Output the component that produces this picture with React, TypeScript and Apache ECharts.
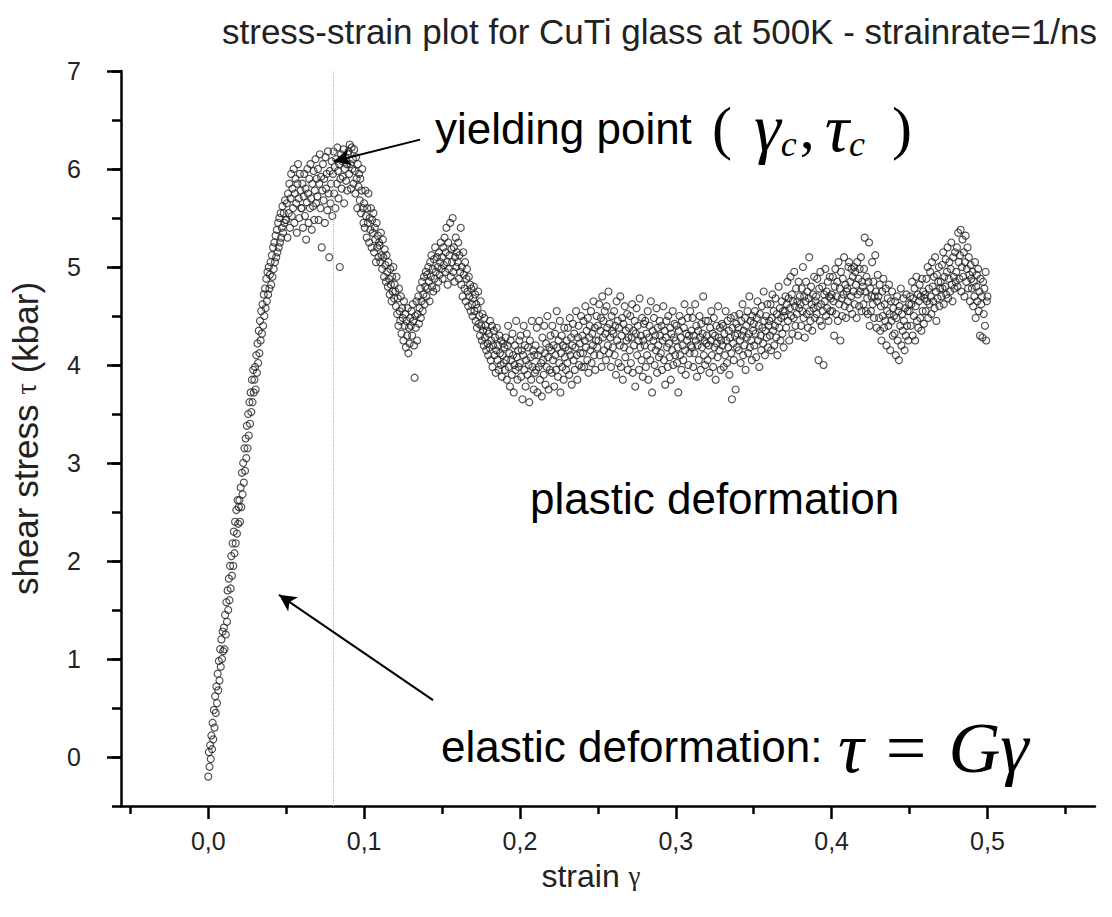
import React, { useEffect, useRef } from "react";
import * as echarts from "echarts";

// Output grid of the simulation: one sample every STRAIN_STEP of shear strain
const STRAIN_STEP = 0.0004;
// Shear stress samples, in hundredths of a kbar
// strain 0.0000 - 0.0496
const stressElastic = [
  -20, 5, -10, 12, -2, 22, 8, 35, 18, 48, 30, 62, 45, 72, 55, 85, 68, 98, 78, 110, 92, 120, 100, 128, 108,
  132, 110, 145, 125, 158, 138, 170, 150, 182, 160, 195, 172, 205, 185, 218, 195, 230, 208, 240, 218, 252, 228, 262, 238, 255,
  262, 240, 275, 255, 290, 268, 300, 280, 315, 292, 325, 305, 338, 315, 350, 328, 362, 340, 372, 352, 385, 362, 395, 372, 385,
  398, 375, 410, 392, 422, 402, 435, 412, 445, 425, 455, 432, 462, 440, 472, 450, 478, 458, 488, 465, 495, 472, 500, 478, 492,
  505, 482, 512, 490, 520, 498, 525, 505, 532, 510, 538, 515, 545, 520, 550, 525, 555, 530, 540, 562, 535, 555, 545, 568, 548,
];
// strain 0.0500 - 0.0996
const stressYield = [
  548, 565, 530, 575, 555, 585, 540, 570, 595, 552, 580, 560, 600, 545, 575, 590, 565, 535, 585, 605, 570, 550, 595, 578, 560,
  560, 585, 540, 572, 595, 552, 580, 528, 566, 600, 575, 545, 590, 560, 605, 570, 538, 585, 562, 598, 548, 578, 610, 565, 590,
  572, 600, 548, 585, 615, 560, 592, 520, 578, 605, 568, 590, 545, 612, 580, 595, 558, 618, 575, 510, 598, 565, 585, 608, 552,
  595, 618, 575, 602, 560, 610, 585, 622, 598, 570, 605, 500, 590, 615, 580, 608, 592, 620, 565, 600, 612, 588, 605, 578, 615,
  618, 595, 625, 605, 580, 622, 600, 610, 585, 620, 598, 575, 612, 590, 560, 605, 582, 595, 568, 590, 555, 578, 600, 560, 545,
];
// strain 0.1000 - 0.1496
const stressSoftening = [
  565, 540, 578, 552, 530, 560, 545, 575, 525, 550, 538, 560, 520, 548, 535, 555, 515, 540, 528, 505, 545, 520, 532, 510, 525,
  522, 505, 535, 512, 498, 528, 510, 490, 518, 502, 485, 512, 495, 480, 505, 488, 472, 498, 482, 465, 490, 475, 500, 468, 482,
  475, 460, 490, 452, 468, 440, 478, 455, 445, 470, 432, 458, 448, 425, 465, 440, 452, 418, 445, 430, 458, 412, 438, 422, 448,
  440, 455, 430, 462, 445, 420, 387, 450, 438, 465, 425, 452, 470, 442, 458, 478, 448, 465, 485, 455, 472, 490, 462, 480, 495,
  470, 492, 478, 500, 485, 465, 505, 490, 512, 480, 498, 475, 508, 488, 520, 495, 478, 510, 500, 485, 515, 492, 505, 525, 498,
];
// strain 0.1500 - 0.1996
const stressHump = [
  510, 488, 520, 502, 530, 495, 515, 540, 505, 482, 525, 498, 512, 545, 490, 518, 505, 550, 495, 520, 485, 510, 530, 500, 515,
  505, 525, 488, 512, 495, 540, 482, 500, 470, 515, 492, 478, 505, 465, 488, 498, 475, 460, 490, 470, 482, 455, 478, 462, 450,
  468, 480, 455, 472, 445, 462, 438, 458, 475, 442, 450, 430, 465, 440, 425, 452, 435, 420, 448, 428, 440, 415, 435, 422, 410,
  432, 418, 445, 405, 425, 440, 398, 420, 435, 410, 428, 392, 415, 438, 405, 420, 395, 430, 412, 400, 425, 388, 410, 422, 402,
  418, 395, 428, 405, 385, 420, 440, 398, 412, 378, 425, 405, 390, 432, 410, 372, 400, 420, 395, 445, 408, 385, 415, 398, 425,
];
// strain 0.2000 - 0.2496
const stressFlowA = [
  402, 430, 388, 415, 365, 410, 440, 395, 420, 378, 405, 432, 390, 418, 400, 362, 425, 408, 385, 445, 398, 415, 375, 410, 392,
  420, 395, 438, 372, 410, 398, 445, 385, 415, 402, 368, 428, 405, 390, 440, 412, 380, 422, 398, 450, 408, 375, 418, 395, 430,
  415, 392, 440, 405, 420, 378, 432, 410, 395, 455, 418, 388, 425, 402, 445, 372, 412, 430, 398, 420, 385, 438, 408, 418, 395,
  425, 402, 438, 415, 390, 448, 410, 428, 380, 420, 442, 405, 432, 395, 418, 455, 410, 385, 428, 440, 400, 422, 412, 450, 398,
  430, 412, 445, 398, 425, 460, 418, 435, 405, 448, 392, 428, 440, 415, 455, 402, 432, 420, 465, 410, 438, 395, 425, 450, 418,
];
// strain 0.2500 - 0.2996
const stressFlowB = [
  440, 425, 462, 410, 435, 448, 398, 470, 428, 445, 415, 455, 432, 405, 460, 438, 420, 475, 412, 442, 428, 398, 450, 435, 418,
  432, 455, 410, 440, 390, 465, 425, 445, 402, 438, 420, 470, 398, 430, 448, 385, 442, 418, 460, 408, 435, 425, 452, 395, 428,
  438, 415, 450, 402, 428, 462, 392, 435, 420, 445, 378, 432, 458, 410, 440, 425, 395, 468, 418, 430, 405, 448, 388, 425, 442,
  420, 445, 398, 432, 410, 455, 385, 428, 440, 405, 465, 418, 372, 435, 425, 448, 400, 430, 415, 458, 392, 438, 420, 408, 445,
  430, 412, 440, 395, 425, 460, 405, 435, 380, 428, 445, 418, 398, 450, 422, 408, 438, 385, 432, 415, 455, 400, 428, 442, 410,
];
// strain 0.3000 - 0.3496
const stressFlowC = [
  425, 440, 402, 418, 372, 435, 450, 410, 428, 395, 445, 420, 405, 438, 462, 415, 390, 432, 425, 448, 400, 430, 412, 455, 420,
  435, 418, 448, 398, 430, 412, 462, 425, 440, 388, 420, 435, 405, 450, 428, 395, 442, 418, 432, 470, 410, 425, 400, 445, 422,
  430, 405, 445, 420, 392, 438, 425, 455, 410, 432, 398, 448, 418, 430, 385, 440, 422, 408, 460, 428, 415, 438, 395, 425, 442,
  420, 440, 398, 432, 410, 455, 425, 402, 445, 418, 435, 390, 428, 448, 412, 365, 438, 422, 405, 450, 430, 375, 442, 418, 432,
  438, 415, 452, 425, 402, 445, 430, 462, 410, 435, 420, 448, 395, 440, 428, 455, 412, 432, 470, 418, 445, 425, 405, 450, 435,
];
// strain 0.3500 - 0.3996
const stressFlowD = [
  442, 420, 455, 432, 408, 448, 465, 425, 440, 398, 452, 430, 415, 460, 438, 422, 475, 445, 410, 435, 450, 428, 462, 418, 440,
  445, 430, 462, 415, 448, 472, 435, 455, 420, 440, 468, 428, 452, 410, 445, 480, 438, 458, 425, 448, 465, 432, 455, 418, 450,
  455, 470, 438, 462, 485, 445, 468, 425, 458, 490, 450, 472, 432, 465, 448, 495, 460, 440, 478, 452, 465, 430, 485, 458, 470,
  462, 440, 478, 455, 500, 448, 470, 428, 465, 485, 452, 475, 438, 468, 510, 455, 445, 480, 462, 435, 472, 458, 490, 448, 465,
  470, 452, 488, 460, 405, 478, 445, 495, 462, 440, 480, 455, 400, 472, 465, 498, 450, 475, 458, 485, 445, 470, 490, 455, 468,
];
// strain 0.4000 - 0.4496
const stressFlowE = [
  472, 455, 490, 465, 430, 480, 498, 452, 470, 485, 445, 505, 462, 478, 425, 495, 468, 450, 488, 472, 510, 460, 482, 448, 475,
  478, 465, 500, 505, 458, 485, 470, 498, 452, 490, 475, 500, 462, 495, 482, 448, 505, 472, 488, 460, 498, 475, 510, 455, 485,
  480, 462, 498, 530, 475, 455, 490, 468, 452, 485, 525, 440, 478, 455, 470, 505, 462, 485, 448, 470, 512, 475, 438, 465, 492,
  470, 448, 482, 435, 460, 425, 475, 450, 488, 438, 462, 445, 478, 420, 455, 468, 440, 482, 452, 415, 465, 445, 475, 430, 458,
  450, 432, 465, 410, 448, 470, 425, 455, 405, 460, 440, 478, 420, 452, 435, 468, 445, 415, 458, 430, 472, 440, 455, 425, 462,
];
// strain 0.4500 - 0.5000
const stressFlowF = [
  455, 470, 440, 462, 485, 430, 468, 450, 478, 425, 460, 490, 445, 472, 438, 465, 482, 448, 470, 435, 488, 455, 475, 442, 468,
  472, 455, 488, 465, 500, 448, 478, 462, 495, 470, 452, 505, 480, 465, 490, 458, 510, 475, 445, 492, 468, 485, 500, 460, 478,
  485, 470, 502, 478, 515, 462, 490, 480, 508, 472, 495, 520, 468, 488, 505, 475, 498, 525, 482, 465, 510, 490, 478, 515, 485,
  495, 520, 480, 535, 505, 488, 512, 538, 475, 500, 528, 490, 515, 470, 505, 532, 485, 498, 520, 478, 510, 492, 465, 502, 488,
  478, 495, 460, 485, 470, 505, 448, 480, 492, 465, 498, 455, 475, 430, 488, 462, 470, 428, 485, 452, 478, 440, 495, 425, 465, 470,
];

// Axis ranges and tick values
const X_MIN = -0.056;
const X_MAX = 0.569;
const xMajorTicks = [0, 0.1, 0.2, 0.3, 0.4, 0.5];
const xMinorTicks = [-0.05, 0.05, 0.15, 0.25, 0.35, 0.45, 0.55];
const Y_MIN = -0.5;
const Y_MAX = 7;
const Y_MINOR_STEP = 0.5;
const yTickPositions = ["-0.5", "0", "0.5", "1", "1.5", "2", "2.5", "3", "3.5", "4", "4.5", "5", "5.5", "6", "6.5", "7"];

// Annotations (data coordinates: [strain, stress])
const YIELD_STRAIN = 0.079;
const yieldArrow = [[0.1359, 6.3], [0.0805, 6.08]];
const elasticArrow = [[0.1442, 0.58], [0.0454, 1.655]];

const TITLE = "stress-strain plot for CuTi glass at 500K - strainrate=1/ns";
const SANS = 'Arial, "Liberation Sans", Helvetica, sans-serif';
const SERIF = '"Times New Roman", "Liberation Serif", Times, serif';

export default function App() {
  const ref = useRef<HTMLDivElement>(null);

  useEffect(() => {
    if (!ref.current) return;
    const chart = echarts.init(ref.current, null, { renderer: "svg" });
    const stress = [
      ...stressElastic, ...stressYield, ...stressSoftening, ...stressHump,
      ...stressFlowA, ...stressFlowB, ...stressFlowC, ...stressFlowD, ...stressFlowE, ...stressFlowF,
    ];
    const points = stress.map((v, i) => [Number((i * STRAIN_STEP).toFixed(4)), v / 100]);

    const tickLine = { color: "#000", width: 2.5 };
    const labelStyle = { fontSize: 25, fontFamily: SANS, color: "#222" };

    chart.setOption({
      animation: false,
      backgroundColor: "#ffffff",
      title: {
        text: TITLE,
        left: 222,
        top: 14,
        padding: 0,
        textStyle: { fontSize: 35, fontWeight: "normal", fontFamily: SANS, color: "#222" },
      },
      grid: { left: 121, right: 17, top: 71, bottom: 111, containLabel: false },
      xAxis: [
        {
          type: "value",
          min: X_MIN,
          max: X_MAX,
          splitNumber: 12,
          minInterval: 0.05,
          maxInterval: 0.05,
          name: "{a|strain }{b|γ}",
          nameLocation: "middle",
          nameGap: 54,
          nameTextStyle: {
            padding: [0, 34, 0, 0],
            rich: {
              a: { fontSize: 32, fontFamily: SANS, color: "#222" },
              b: { fontSize: 27, fontFamily: SERIF, color: "#222" },
            },
          },
          axisLine: { show: true, onZero: false, lineStyle: tickLine },
          axisTick: { show: true, length: 8, customValues: xMinorTicks, lineStyle: tickLine },
          axisLabel: { show: false },
          splitLine: { show: false },
        },
        {
          type: "value",
          min: X_MIN,
          max: X_MAX,
          splitNumber: 6,
          minInterval: 0.1,
          maxInterval: 0.1,
          position: "bottom",
          axisLine: { show: false, onZero: false },
          axisTick: { show: true, length: 13, customValues: xMajorTicks, lineStyle: tickLine },
          axisLabel: {
            ...labelStyle,
            margin: 22,
            customValues: xMajorTicks,
            formatter: (v: number) => {
              const h = Math.round(v * 100);
              if (h % 10 !== 0) return "";
              return (h / 100).toFixed(1).replace(".", ",");
            },
          },
          splitLine: { show: false },
        },
      ],
      yAxis: [
        {
          type: "value",
          min: Y_MIN,
          max: Y_MAX,
          interval: Y_MINOR_STEP,
          name: "{a|shear stress }{b|τ}{a| (kbar)}",
          nameLocation: "middle",
          nameGap: 78,
          nameTextStyle: {
            rich: {
              a: { fontSize: 35, fontFamily: SANS, color: "#222" },
              b: { fontSize: 29, fontFamily: SERIF, color: "#222" },
            },
          },
          axisLine: { show: true, onZero: false, lineStyle: tickLine },
          axisTick: { show: true, length: 9, lineStyle: tickLine },
          axisLabel: {
            ...labelStyle,
            margin: 40,
            formatter: (v: number) => {
              const h = Math.round(v * 2);
              if (h % 2 !== 0) return "";
              return String(h / 2);
            },
          },
          splitLine: { show: false },
        },
        {
          type: "category",
          data: yTickPositions,
          boundaryGap: false,
          position: "left",
          axisLine: { show: false, onZero: false },
          axisTick: { show: true, length: 14, interval: (i: number) => i % 2 === 1, lineStyle: tickLine },
          axisLabel: { show: false },
          splitLine: { show: false },
        },
      ],
      series: [
        {
          type: "scatter",
          xAxisIndex: 0,
          yAxisIndex: 0,
          data: points,
          symbol: "circle",
          symbolSize: 7,
          silent: true,
          itemStyle: { color: "rgba(255,255,255,0)", borderColor: "#222222", borderWidth: 1.15 },
          emphasis: { disabled: true },
          markLine: {
            silent: true,
            symbol: ["none", "none"],
            label: { show: false },
            lineStyle: { color: "#8cc0ec", type: "dotted", width: 1.2 },
            emphasis: { disabled: true },
            data: [{ xAxis: YIELD_STRAIN }],
          },
        },
        {
          type: "scatter",
          xAxisIndex: 0,
          yAxisIndex: 0,
          data: [],
          silent: true,
          markLine: {
            silent: true,
            symbol: ["none", "arrow"],
            symbolSize: [13, 17],
            label: { show: false },
            lineStyle: { color: "#000", type: "solid", width: 2 },
            itemStyle: { color: "#000" },
            emphasis: { disabled: true },
            data: [
              [{ coord: yieldArrow[0] }, { coord: yieldArrow[1] }],
              [{ coord: elasticArrow[0] }, { coord: elasticArrow[1] }],
            ],
          },
        },
      ],
      graphic: {
        elements: [
          {
            type: "text",
            x: 435,
            y: 128,
            silent: true,
            style: { text: "yielding point", fontSize: 44, fontFamily: SANS, fill: "#000", align: "left", verticalAlign: "middle" },
          },
          {
            type: "text",
            x: 712,
            y: 128,
            silent: true,
            style: {
              text: "{l|(}{g|γ}{s|c}{k|,}{g|τ}{s|c}{r|)}",
              align: "left",
              verticalAlign: "middle",
              rich: {
                l: { fontSize: 60, fontFamily: SERIF, fill: "#000", padding: [0, 22, 0, 0] },
                r: { fontSize: 60, fontFamily: SERIF, fill: "#000", padding: [0, 0, 0, 24] },
                k: { fontSize: 60, fontFamily: SERIF, fill: "#000", padding: [0, 10, 0, 0] },
                g: { fontSize: 68, fontFamily: SERIF, fontStyle: "italic", fill: "#000" },
                s: { fontSize: 36, fontFamily: SERIF, fontStyle: "italic", fill: "#000", verticalAlign: "bottom", lineHeight: 16, padding: [0, 3, 0, 0] },
              },
            },
          },
          {
            type: "text",
            x: 530,
            y: 498,
            silent: true,
            style: { text: "plastic deformation", fontSize: 44, fontFamily: SANS, fill: "#000", align: "left", verticalAlign: "middle" },
          },
          {
            type: "text",
            x: 441,
            y: 746,
            silent: true,
            style: { text: "elastic deformation:", fontSize: 44, fontFamily: SANS, fill: "#000", align: "left", verticalAlign: "middle" },
          },
          {
            type: "text",
            x: 838,
            y: 748,
            silent: true,
            style: {
              text: "{m|τ}{e|=}{m|Gγ}",
              align: "left",
              verticalAlign: "middle",
              rich: {
                m: { fontSize: 72, fontFamily: SERIF, fontStyle: "italic", fill: "#000" },
                e: { fontSize: 72, fontFamily: SERIF, fill: "#000", padding: [0, 22, 0, 22] },
              },
            },
          },
        ],
      },
    });

    return () => chart.dispose();
  }, []);

  return (
    <div
      ref={ref}
      style={{ position: "absolute", left: 0, top: 0, width: 1112, height: 917, background: "#fff" }}
    />
  );
}
